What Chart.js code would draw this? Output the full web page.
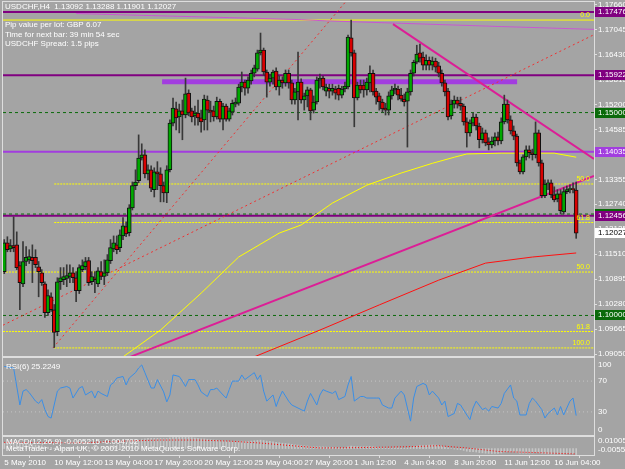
<!DOCTYPE html>
<html>
<head>
<meta charset="utf-8">
<script src="https://cdn.jsdelivr.net/npm/chart.js@4.4.0/dist/chart.umd.min.js"></script>
<style>
  html, body { margin: 0; padding: 0; background: #a4a4a4; }
  #wrap { position: relative; width: 625px; height: 469px; overflow: hidden; background: #a4a4a4; }
  #wrap canvas { position: absolute; left: 0; }
</style>
</head>
<body>
<div id="wrap">
  <canvas id="mainChart" width="625" height="358" style="top:0px"></canvas>
  <canvas id="rsiChart" width="625" height="81" style="top:356px"></canvas>
  <canvas id="macdChart" width="625" height="34" style="top:435px"></canvas>
</div>
<script>
// USDCHF H4 candles, bar 0 = 5 May 2010 20:00
const openP = [1.1108,1.1179,1.1164,1.1172,1.1174,1.1123,1.1078,1.1133,1.1137,1.1143,
  1.1143,1.1120,1.1105,1.1078,1.1007,1.1046,1.1014,1.0960,1.1083,1.1088,
  1.1091,1.1096,1.1105,1.1093,1.1061,1.1113,1.1120,1.1135,1.1083,1.1093,
  1.1078,1.1108,1.1096,1.1105,1.1135,1.1164,1.1174,1.1167,1.1196,1.1219,
  1.1204,1.1265,1.1320,1.1332,1.1388,1.1396,1.1349,1.1359,1.1310,1.1354,
  1.1349,1.1320,1.1302,1.1359,1.1474,1.1509,1.1489,1.1504,1.1494,1.1548,
  1.1504,1.1492,1.1499,1.1487,1.1482,1.1531,1.1506,1.1504,1.1489,1.1528,
  1.1484,1.1516,1.1484,1.1501,1.1521,1.1523,1.1563,1.1575,1.1560,1.1578,
  1.1597,1.1607,1.1647,1.1654,1.1600,1.1575,1.1585,1.1602,1.1563,1.1580,
  1.1573,1.1597,1.1573,1.1531,1.1551,1.1575,1.1531,1.1541,1.1556,1.1506,
  1.1526,1.1580,1.1585,1.1553,1.1560,1.1553,1.1558,1.1560,1.1543,1.1558,
  1.1563,1.1684,1.1647,1.1536,1.1568,1.1568,1.1556,1.1573,1.1597,1.1553,
  1.1541,1.1526,1.1511,1.1506,1.1541,1.1556,1.1558,1.1543,1.1533,1.1528,
  1.1551,1.1597,1.1624,1.1647,1.1637,1.1617,1.1629,1.1617,1.1627,1.1615,
  1.1597,1.1573,1.1553,1.1492,1.1521,1.1531,1.1523,1.1516,1.1477,1.1450,
  1.1474,1.1489,1.1467,1.1433,1.1450,1.1428,1.1420,1.1430,1.1440,1.1430,
  1.1477,1.1521,1.1482,1.1455,1.1442,1.1376,1.1354,1.1391,1.1408,1.1401,
  1.1396,1.1450,1.1376,1.1295,1.1324,1.1327,1.1297,1.1287,1.1300,1.1255,
  1.1305,1.1310,1.1312,1.13092];
const highP = [1.1187,1.1194,1.1187,1.1243,1.1206,1.1133,1.1182,1.1170,1.1162,1.1174,
  1.1162,1.1133,1.1113,1.1083,1.1063,1.1056,1.1027,1.1093,1.1118,1.1118,
  1.1125,1.1125,1.1118,1.1108,1.1125,1.1137,1.1143,1.1143,1.1108,1.1108,
  1.1118,1.1133,1.1137,1.1150,1.1187,1.1196,1.1196,1.1211,1.1241,1.1231,
  1.1273,1.1329,1.1359,1.1445,1.1423,1.1408,1.1371,1.1369,1.1364,1.1379,
  1.1364,1.1329,1.1369,1.1482,1.1536,1.1526,1.1521,1.1531,1.1585,1.1556,
  1.1511,1.1516,1.1531,1.1506,1.1543,1.1541,1.1528,1.1516,1.1538,1.1533,
  1.1523,1.1521,1.1511,1.1531,1.1536,1.1570,1.1600,1.1580,1.1588,1.1605,
  1.1617,1.1654,1.1696,1.1659,1.1605,1.1595,1.1605,1.1610,1.1590,1.1588,
  1.1605,1.1605,1.1580,1.1560,1.1649,1.1583,1.1548,1.1563,1.1560,1.1541,
  1.1588,1.1595,1.1590,1.1570,1.1570,1.1570,1.1565,1.1568,1.1565,1.1575,
  1.1691,1.1728,1.1654,1.1575,1.1580,1.1580,1.1585,1.1615,1.1605,1.1560,
  1.1548,1.1533,1.1523,1.1551,1.1565,1.1570,1.1565,1.1560,1.1546,1.1560,
  1.1605,1.1629,1.1666,1.1669,1.1649,1.1642,1.1637,1.1637,1.1634,1.1624,
  1.1605,1.1580,1.1560,1.1531,1.1541,1.1538,1.1538,1.1521,1.1487,1.1482,
  1.1499,1.1496,1.1474,1.1462,1.1457,1.1438,1.1440,1.1450,1.1452,1.1487,
  1.1543,1.1531,1.1492,1.1467,1.1447,1.1383,1.1396,1.1418,1.1418,1.1410,
  1.1477,1.1457,1.1383,1.1334,1.1334,1.1334,1.1317,1.1310,1.1310,1.1315,
  1.1319,1.1322,1.1327,1.13288];
const lowP = [1.1103,1.1157,1.1157,1.1157,1.1113,1.1014,1.1071,1.1123,1.1128,1.1081,
  1.1118,1.1046,1.1074,1.0995,1.1000,1.1010,1.0921,1.0950,1.1064,1.1076,
  1.1071,1.1081,1.1081,1.1034,1.1054,1.1108,1.1113,1.1074,1.1076,1.1056,
  1.1071,1.1088,1.1076,1.1098,1.1128,1.1157,1.1152,1.1157,1.1187,1.1194,
  1.1196,1.1260,1.1310,1.1327,1.1383,1.1339,1.1334,1.1305,1.1292,1.1310,
  1.1280,1.1280,1.1278,1.1354,1.1467,1.1457,1.1450,1.1433,1.1487,1.1492,
  1.1477,1.1469,1.1469,1.1452,1.1457,1.1457,1.1477,1.1479,1.1484,1.1477,
  1.1457,1.1479,1.1479,1.1494,1.1514,1.1518,1.1551,1.1543,1.1548,1.1570,
  1.1588,1.1602,1.1642,1.1592,1.1538,1.1565,1.1570,1.1556,1.1543,1.1560,
  1.1565,1.1560,1.1521,1.1521,1.1482,1.1523,1.1506,1.1514,1.1482,1.1499,
  1.1521,1.1560,1.1556,1.1541,1.1536,1.1543,1.1533,1.1531,1.1536,1.1551,
  1.1558,1.1639,1.1465,1.1531,1.1548,1.1538,1.1543,1.1551,1.1543,1.1521,
  1.1506,1.1501,1.1494,1.1494,1.1533,1.1546,1.1531,1.1528,1.1516,1.1415,
  1.1543,1.1590,1.1620,1.1624,1.1605,1.1605,1.1605,1.1605,1.1600,1.1588,
  1.1565,1.1541,1.1482,1.1484,1.1511,1.1511,1.1506,1.1469,1.1415,1.1442,
  1.1467,1.1457,1.1413,1.1425,1.1418,1.1408,1.1413,1.1418,1.1420,1.1423,
  1.1472,1.1474,1.1447,1.1433,1.1368,1.1349,1.1349,1.1383,1.1388,1.1383,
  1.1388,1.1368,1.1290,1.1290,1.1310,1.1290,1.1280,1.1280,1.1250,1.1250,
  1.1300,1.1302,1.1302,1.11901];
const closeP = [1.1179,1.1162,1.1172,1.1167,1.1118,1.1081,1.1133,1.1143,1.1145,1.1135,
  1.1125,1.1108,1.1081,1.1007,1.1049,1.1014,1.0958,1.1083,1.1093,1.1096,
  1.1098,1.1105,1.1093,1.1061,1.1118,1.1123,1.1133,1.1081,1.1096,1.1088,
  1.1110,1.1096,1.1105,1.1137,1.1167,1.1179,1.1162,1.1199,1.1221,1.1201,
  1.1265,1.1320,1.1329,1.1388,1.1396,1.1349,1.1359,1.1314,1.1354,1.1349,
  1.1320,1.1302,1.1359,1.1474,1.1511,1.1487,1.1504,1.1494,1.1546,1.1499,
  1.1489,1.1499,1.1487,1.1477,1.1533,1.1506,1.1501,1.1489,1.1528,1.1484,
  1.1516,1.1484,1.1504,1.1523,1.1526,1.1563,1.1575,1.1560,1.1580,1.1597,
  1.1610,1.1647,1.1654,1.1600,1.1575,1.1585,1.1600,1.1563,1.1580,1.1573,
  1.1597,1.1573,1.1531,1.1551,1.1575,1.1531,1.1541,1.1556,1.1504,1.1526,
  1.1580,1.1585,1.1563,1.1563,1.1553,1.1560,1.1548,1.1543,1.1558,1.1565,
  1.1686,1.1647,1.1536,1.1568,1.1556,1.1556,1.1575,1.1597,1.1551,1.1538,
  1.1526,1.1509,1.1506,1.1541,1.1556,1.1560,1.1543,1.1533,1.1526,1.1551,
  1.1597,1.1624,1.1644,1.1634,1.1617,1.1629,1.1617,1.1627,1.1612,1.1597,
  1.1573,1.1551,1.1489,1.1521,1.1531,1.1521,1.1516,1.1477,1.1450,1.1474,
  1.1489,1.1467,1.1433,1.1450,1.1425,1.1420,1.1430,1.1440,1.1430,1.1477,
  1.1521,1.1482,1.1455,1.1442,1.1376,1.1354,1.1391,1.1408,1.1401,1.1396,
  1.1450,1.1376,1.1295,1.1324,1.1327,1.1297,1.1285,1.1300,1.1258,1.1305,
  1.1310,1.1312,1.1310,1.12027];

// moving averages (bar index / price)
const yellowMaBars = [38, 50, 63, 75, 88, 95, 105, 116, 127, 137, 144, 148, 159, 176, 183];
const yellowMaVals = [1.0898, 1.0964, 1.1055, 1.1144, 1.1203, 1.1223, 1.1277, 1.1321, 1.1351, 1.1375, 1.1390, 1.1398, 1.1400, 1.1400, 1.1390];
const redMaBars = [80, 101, 120, 139, 154, 169, 183];
const redMaVals = [1.0898, 1.0964, 1.1026, 1.1087, 1.1129, 1.1144, 1.1154];
const slowMaBars = [23, 47, 72, 95, 103, 127, 159, 188.7];
const slowMaVals = [1.1744, 1.1739, 1.1734, 1.1729, 1.1726, 1.1720, 1.1712, 1.1705];

// horizontal levels
const purpleLevels = [1.17476, 1.15922, 1.12456];
const violetLevels = [1.14035];
const greenLevels = [1.15000, 1.12500, 1.10000];
const fibStartBar = 16;
const fibLevels = [1.13240, 1.12290, 1.09200];
const fibNames = ['50.0', '61.8', '100.0'];
const fullFibLevels = [1.17280, 1.11070, 1.09604];
const fullFibNames = ['0.0', '50.0', '61.8'];
const zoneBars = [50.5, 164.1];
const zonePrice = 1.15757;

// trend lines [bar, price]
const pinkUp = [[40.3, 1.0898], [188.7, 1.1344]];
const pinkDown = [[124.4, 1.1718], [188.7, 1.1386]];
const redDotA = [[15.6, 1.0920], [110, 1.1780]];
const redDotB = [[-0.4, 1.0976], [188.7, 1.1692]];

// axis labels
const priceTicks = [1.09050, 1.09665, 1.10280, 1.10895, 1.11510, 1.12125, 1.12740, 1.13355,
  1.13970, 1.14585, 1.15200, 1.15815, 1.16430, 1.17045, 1.17660];
const boxPrices = [1.17476, 1.15922, 1.15000, 1.14035, 1.12500, 1.12456, 1.12027, 1.10000];
const timeTickBars = [0, 16, 32, 48, 64, 80, 96, 112, 128, 144, 160, 176];
const timeTickLabels = ['5 May 2010', '10 May 12:00', '13 May 04:00', '17 May 20:00', '20 May 12:00',
  '25 May 04:00', '27 May 20:00', '1 Jun 12:00', '4 Jun 04:00', '8 Jun 20:00', '11 Jun 12:00', '16 Jun 04:00'];

// RSI(6)
const rsiBars = [0,3,5,6,7,8,10,11,12,13,14,15,17,18,20,21,22,24,25,26,
  28,29,30,31,33,34,35,36,38,39,40,42,43,44,45,47,48,49,51,52,
  53,54,56,57,58,59,61,62,63,65,66,67,68,70,71,72,73,75,76,77,
  79,80,81,82,83,84,86,87,88,89,91,92,93,95,96,97,98,100,101,102,
  103,105,106,107,109,110,111,112,114,115,116,118,119,120,121,123,124,125,127,128,
  129,130,131,132,134,135,136,137,139,140,141,142,144,145,146,148,149,150,151,153,
  154,155,156,158,159,160,162,163,164,165,167,168,169,170,172,173,174,176,177,178,
  179,181,182,183];
const rsiValues = [89,87,39,57,59,55,44,41,46,33,24,22,57,61,63,61,48,61,63,52,
  57,48,57,54,50,65,68,74,76,65,74,81,87,91,81,61,61,72,56,43,
  52,78,76,70,63,72,72,65,56,50,59,59,61,52,48,59,70,70,78,72,
  78,81,72,78,57,44,52,37,48,57,44,39,37,33,31,44,54,39,52,59,
  57,54,57,46,50,65,76,44,50,50,48,48,48,48,39,35,35,48,57,52,
  35,18,48,63,67,65,52,57,48,39,44,24,28,41,39,26,20,35,44,33,
  35,31,37,35,41,54,65,48,44,26,26,41,48,44,33,22,28,35,26,37,
  26,44,48,25.2249];
const rsiLevels = [70, 30];
const rsiTickValues = [100, 70, 30, 0];

// MACD(12,26,9)
const macdHist = [0.0050,0.0050,0.0049,0.0049,0.0046,0.0040,0.0039,0.0037,0.0036,0.0034,0.0031,0.0028,0.0024,0.0018,0.0014,0.0010,
  0.0004,0.0006,0.0008,0.0010,0.0011,0.0012,0.0012,0.0010,0.0013,0.0015,0.0017,0.0014,0.0014,0.0013,0.0015,0.0015,
  0.0016,0.0019,0.0024,0.0029,0.0032,0.0037,0.0042,0.0044,0.0050,0.0058,0.0064,0.0074,0.0082,0.0085,0.0088,0.0088,
  0.0089,0.0089,0.0088,0.0086,0.0087,0.0094,0.0101,0.0100,0.0100,0.0099,0.0100,0.0098,0.0095,0.0092,0.0089,0.0085,
  0.0084,0.0081,0.0078,0.0075,0.0073,0.0070,0.0068,0.0065,0.0063,0.0062,0.0061,0.0063,0.0064,0.0063,0.0064,0.0066,
  0.0068,0.0071,0.0073,0.0070,0.0065,0.0062,0.0059,0.0054,0.0051,0.0047,0.0045,0.0042,0.0037,0.0033,0.0031,0.0027,
  0.0024,0.0022,0.0018,0.0015,0.0015,0.0016,0.0015,0.0013,0.0012,0.0011,0.0009,0.0007,0.0006,0.0005,0.0015,0.0022,
  0.0018,0.0017,0.0016,0.0016,0.0017,0.0019,0.0017,0.0014,0.0011,0.0007,0.0004,0.0004,0.0005,0.0006,0.0006,0.0005,
  0.0004,0.0005,0.0009,0.0015,0.0021,0.0025,0.0027,0.0029,0.0030,0.0031,0.0030,0.0027,0.0022,0.0016,0.0006,0.0000,
  -0.0004,-0.0007,-0.0010,-0.0016,-0.0023,-0.0026,-0.0027,-0.0030,-0.0035,-0.0037,-0.0040,-0.0042,-0.0043,-0.0043,-0.0043,-0.0038,
  -0.0030,-0.0027,-0.0027,-0.0028,-0.0033,-0.0039,-0.0040,-0.0040,-0.0039,-0.0038,-0.0033,-0.0036,-0.0043,-0.0045,-0.0046,-0.0048,
  -0.0049,-0.0049,-0.0051,-0.0049,-0.0047,-0.0046,-0.0045,-0.005215];
const macdSigBars = [0, 12, 25, 38, 50, 62, 72, 82, 92, 101, 112, 122, 132, 139, 148, 158, 170, 183];
const macdSigValues = [0.0054, 0.0052, 0.0050, 0.0065, 0.0074, 0.0074, 0.0065, 0.0048, 0.0025, 0.0005,
  0.0008, 0.0012, 0.0018, 0.0025, 0.0005, -0.0025, -0.0035, -0.004702];
const macdRange = [-0.005594, 0.010058];

const FONT = '"Liberation Sans", Arial, sans-serif';
const X_MIN = -0.4, X_MAX = 188.7;
const FRAME = '#dedede';

Chart.defaults.font.family = FONT;
Chart.defaults.font.size = 8;

function line(points, color, width, dash, order) {
  return {
    type: 'line',
    data: points.map(p => ({ x: p[0], y: p[1] })),
    borderColor: color,
    borderWidth: width,
    borderDash: dash || [],
    pointRadius: 0,
    tension: 0,
    fill: false,
    order: order || 5,
  };
}
function level(price, fromBar, color, width, dash) {
  return line([[fromBar, price], [X_MAX, price]], color, width, dash, 6);
}
function rightAxisFit(scale) {
  scale.width = 31;
  scale.paddingTop = 0;
  scale.paddingBottom = 0;
}
function hiddenX() {
  return { type: 'linear', min: X_MIN, max: X_MAX, offset: false, display: false };
}
function frame(chart) {
  const { ctx, chartArea: a } = chart;
  ctx.save();
  ctx.strokeStyle = FRAME;
  ctx.lineWidth = 1;
  ctx.strokeRect(Math.round(a.left) - 0.5, Math.round(a.top) - 0.5, Math.round(a.right - a.left) + 1, Math.round(a.bottom - a.top) + 1);
  ctx.restore();
}
const baseOptions = {
  responsive: false,
  animation: false,
  devicePixelRatio: 1,
  events: [],
  plugins: { legend: { display: false }, tooltip: { enabled: false } },
};

// ---------- main price panel ----------
const mainSets = [];
mainSets.push({
  type: 'bar',
  data: highP.map((h, i) => ({ x: i, y: [lowP[i], h] })),
  backgroundColor: '#383838',
  barThickness: 1,
  grouped: false,
  order: 1,
});
mainSets.push({
  type: 'bar',
  data: openP.map((o, i) => ({ x: i, y: [o, closeP[i]] })),
  backgroundColor: closeP.map((c, i) => (c >= openP[i] ? '#00a800' : '#d80000')),
  borderColor: '#101010',
  borderWidth: 1,
  borderSkipped: false,
  barThickness: 4,
  minBarLength: 1,
  grouped: false,
  order: 0,
});
fullFibLevels.forEach((p, i) => mainSets.push(level(p, X_MIN, '#ffff00', 1, i === 0 ? [] : [2, 1])));
fibLevels.forEach(p => mainSets.push(level(p, fibStartBar, '#ffff00', 1, [2, 1])));
greenLevels.forEach(p => mainSets.push(level(p, X_MIN, '#0a6a0a', 1, [3, 3])));
purpleLevels.forEach(p => mainSets.push(level(p, X_MIN, '#800080', 2)));
violetLevels.forEach(p => mainSets.push(level(p, X_MIN, '#a23ddf', 2)));
mainSets.push(line([[zoneBars[0], zonePrice], [zoneBars[1], zonePrice]], '#a23ddf', 5, [], 6));
mainSets.push(line(yellowMaBars.map((b, i) => [b, yellowMaVals[i]]), '#ffff00', 1, [], 4));
mainSets.push(line(redMaBars.map((b, i) => [b, redMaVals[i]]), '#ff1010', 1, [], 4));
mainSets.push(line(slowMaBars.map((b, i) => [b, slowMaVals[i]]), '#c858d0', 1, [], 4));
mainSets.push(line(redDotA, '#f03030', 1, [2, 3], 3));
mainSets.push(line(redDotB, '#f03030', 1, [2, 3], 3));
mainSets.push(line(pinkUp, '#dc1e96', 2, [], 3));
mainSets.push(line(pinkDown, '#dc1e96', 2, [], 3));

const boxFill = ['#800080', '#800080', '#0a6a0a', '#a23ddf', '#0a6a0a', '#800080', '#ffffff', '#0a6a0a'];
const boxText = ['#ffffff', '#ffffff', '#ffffff', '#ffffff', '#ffffff', '#ffffff', '#000000', '#ffffff'];
const infoLines = ['USDCHF,H4  1.13092 1.13288 1.11901 1.12027', 'Pip value per lot: GBP 6.07',
  'Time for next bar: 39 min 54 sec', 'USDCHF Spread: 1.5 pips'];

const mainOverlay = {
  id: 'mainOverlay',
  afterDraw(chart) {
    frame(chart);
    const { ctx, chartArea: a, scales: { y } } = chart;
    ctx.save();
    ctx.font = '7px ' + FONT;
    ctx.fillStyle = '#ffff00';
    ctx.textAlign = 'right';
    ctx.textBaseline = 'bottom';
    fullFibLevels.forEach((p, i) => ctx.fillText(fullFibNames[i], a.right - 4, y.getPixelForValue(p) - 1));
    fibLevels.forEach((p, i) => ctx.fillText(fibNames[i], a.right - 4, y.getPixelForValue(p) - 1));

    ctx.font = '8px ' + FONT;
    ctx.textAlign = 'left';
    ctx.textBaseline = 'middle';
    boxPrices.forEach((p, i) => {
      const py = Math.round(y.getPixelForValue(p));
      ctx.fillStyle = boxFill[i];
      ctx.fillRect(a.right + 1, py - 5, 31, 10);
      ctx.fillStyle = boxText[i];
      ctx.fillText(p.toFixed(5), a.right + 4, py);
    });

    ctx.fillStyle = '#ffffff';
    [7, 25, 35, 44].forEach((ty, i) => ctx.fillText(infoLines[i], 5, ty));
    ctx.restore();
  },
};

new Chart(document.getElementById('mainChart'), {
  type: 'line',
  data: { datasets: mainSets },
  options: Object.assign({}, baseOptions, {
    layout: { padding: { left: 3, top: 2, right: 0, bottom: 2 } },
    scales: {
      x: hiddenX(),
      y: {
        type: 'linear',
        position: 'right',
        min: 1.09001,
        max: 1.17725,
        afterBuildTicks: s => { s.ticks = priceTicks.map(v => ({ value: v })); },
        afterFit: rightAxisFit,
        grid: { drawOnChartArea: false, tickLength: 3, color: FRAME },
        border: { display: false },
        ticks: { color: '#ffffff', padding: 1, autoSkip: false, font: { size: 8 }, callback: v => Number(v).toFixed(5) },
      },
    },
  }),
  plugins: [mainOverlay],
});

// ---------- RSI panel ----------
const rsiOverlay = {
  id: 'rsiOverlay',
  afterDraw(chart) {
    frame(chart);
    const { ctx, chartArea: a, scales: { y } } = chart;
    ctx.save();
    ctx.font = '8px ' + FONT;
    ctx.fillStyle = '#ffffff';
    ctx.textBaseline = 'middle';
    ctx.textAlign = 'left';
    ctx.fillText('RSI(6) 25.2249', 6, a.top + 9);
    const shift = [7, 0, 0, -5];
    rsiTickValues.forEach((v, i) => ctx.fillText(String(v), a.right + 4, y.getPixelForValue(v) + shift[i]));
    ctx.restore();
  },
};

new Chart(document.getElementById('rsiChart'), {
  type: 'line',
  data: {
    datasets: [
      ...rsiLevels.map(v => line([[X_MIN, v], [X_MAX, v]], '#c4c4c4', 1, [1, 3], 6)),
      line(rsiBars.map((b, i) => [b, rsiValues[i]]), '#3a8ee6', 1, [], 1),
    ],
  },
  options: Object.assign({}, baseOptions, {
    layout: { padding: { left: 3, top: 2, right: 0, bottom: 2 } },
    scales: {
      x: hiddenX(),
      y: {
        type: 'linear', position: 'right', min: 0, max: 100,
        afterFit: rightAxisFit,
        grid: { display: false }, border: { display: false }, ticks: { display: false },
      },
    },
  }),
  plugins: [rsiOverlay],
});

// ---------- MACD panel + time axis ----------
const macdOverlay = {
  id: 'macdOverlay',
  afterDraw(chart) {
    frame(chart);
    const { ctx, chartArea: a } = chart;
    ctx.save();
    ctx.font = '8px ' + FONT;
    ctx.fillStyle = '#ffffff';
    ctx.textBaseline = 'middle';
    ctx.textAlign = 'left';
    ctx.fillText('MACD(12,26,9) -0.005215 -0.004702', 6, a.top + 5);
    ctx.fillText('MetaTrader - Alpari UK, \u00a9 2001-2010 MetaQuotes Software Corp.', 6, a.top + 12);
    ctx.fillText(macdRange[1].toFixed(6), a.right + 4, a.top + 4);
    ctx.fillText(macdRange[0].toFixed(6), a.right + 4, a.bottom - 5);
    ctx.restore();
  },
};

new Chart(document.getElementById('macdChart'), {
  type: 'line',
  data: {
    datasets: [
      { type: 'bar', data: macdHist.map((v, i) => ({ x: i, y: v })), backgroundColor: '#c6c6c6', barThickness: 1, grouped: false, order: 3 },
      line(macdSigBars.map((b, i) => [b, macdSigValues[i]]), '#ff0000', 1, [1, 2], 1),
    ],
  },
  options: Object.assign({}, baseOptions, {
    layout: { padding: { left: 3, top: 2, right: 0, bottom: 0 } },
    scales: {
      x: {
        type: 'linear', min: X_MIN, max: X_MAX, offset: false, position: 'bottom',
        afterBuildTicks: s => { s.ticks = timeTickBars.map(v => ({ value: v })); },
        afterFit: s => { s.height = 14; s.paddingLeft = 0; s.paddingRight = 0; },
        grid: { drawOnChartArea: false, tickLength: 3, color: FRAME },
        border: { display: false },
        ticks: {
          color: '#ffffff', padding: 0, align: 'start', maxRotation: 0, autoSkip: false, font: { size: 8 },
          callback: (v, i) => timeTickLabels[i],
        },
      },
      y: {
        type: 'linear', position: 'right', min: macdRange[0], max: macdRange[1],
        afterFit: rightAxisFit,
        grid: { display: false }, border: { display: false }, ticks: { display: false },
      },
    },
  }),
  plugins: [macdOverlay],
});
</script>
</body>
</html>
